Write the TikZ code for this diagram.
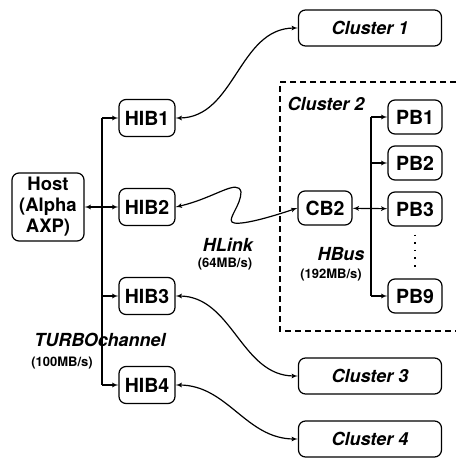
\documentclass[tikz,border=0pt]{standalone}
\usepackage{fontspec}
\setmainfont{TeX Gyre Heros}
\usepackage{tikz}
\usetikzlibrary{arrows, positioning}

\begin{document}
\begin{tikzpicture}[x=1pt, y=1pt, >=latex', line width=1.2pt, node distance=89pt, every node/.style={font=\bfseries\fontsize{18}{21}\selectfont}, unit/.style={draw, rounded corners=7pt, minimum width=56pt, minimum height=37pt, inner sep=0pt, font=\bfseries\fontsize{19.5}{21}\selectfont}, pb/.style={unit, minimum width=54pt, minimum height=34pt}, cluster/.style={draw, rounded corners=7pt, minimum width=143pt, minimum height=36pt, font=\bfseries\itshape\fontsize{18}{21}\selectfont}, lbl/.style={font=\bfseries\itshape\fontsize{18}{21}\selectfont}, rate/.style={font=\bfseries\fontsize{13}{15}\selectfont}]
\useasboundingbox (0,0) rectangle (456,-458);
\node[unit, minimum width=72pt, minimum height=68pt, align=center, font=\bfseries\fontsize{18.5}{21}\selectfont] (host) at (48,-207) {Host\\(Alpha\\AXP)};
\node[unit] (hib1) at (147,-118) {HIB1};
\node[unit, below of=hib1] (hib2) {HIB2};
\node[unit, below of=hib2] (hib3) {HIB3};
\node[unit, below of=hib3] (hib4) {HIB4};
\node[cluster] (c1) at (370,-28) {Cluster 1};
\node[cluster] (c3) at (370,-376) {Cluster 3};
\node[cluster] (c4) at (370,-439) {Cluster 4};
\node[pb] (cb2) at (325,-208) {CB2};
\node[pb] (pb1) at (415,-117) {PB1};
\node[pb, below of=pb1, node distance=46pt] (pb2) {PB2};
\node[pb, below of=pb2, node distance=46pt] (pb3) {PB3};
\node[pb] (pb9) at (415,-296) {PB9};
\coordinate (bus) at (102,0);
\coordinate (hbus) at (371,0);
\draw[dashed, dash pattern=on 6pt off 4pt] (456,-82) -- (280,-82) -- (280,-331) -- (456,-331);
\node[lbl] (cl2) at (326,-104) {Cluster 2};
\draw (bus |- hib1) -- (bus |- hib4);
\draw[->] (bus |- hib1) -- (hib1);
\draw[->] (bus |- hib3) -- (hib3);
\draw[->] (bus |- hib4) -- (hib4);
\draw[<->] (host) -- (hib2);
\draw (hbus |- pb1) -- (hbus |- pb9);
\draw[->] (hbus |- pb1) -- (pb1);
\draw[->] (hbus |- pb2) -- (pb2);
\draw[->] (hbus |- pb9) -- (pb9);
\draw[<->] (cb2) -- (pb3);
\draw[dash pattern=on 1.6pt off 6pt, line width=1.6pt] ([yshift=-8pt]pb3.south) -- ([yshift=8pt]pb9.north);
\draw[<->] (hib1) to[out=0, in=180] (c1);
\draw[<->] (hib3) to[out=0, in=180] (c3);
\draw[<->] (hib4) to[out=0, in=180] (c4);
\draw[<->] (hib2.east) .. controls (215,-198) and (238,-178) .. (241,-192) .. controls (241,-205) and (228,-218) .. (232,-222) .. controls (236,-226) and (262,-220) .. (cb2.west);
\node[lbl] (hlink) at (228,-245) {HLink};
\node[rate] (hlinkrate) at (225,-264) {(64MB/s)};
\node[lbl] (hbuslbl) at (341,-254) {HBus};
\node[rate] (hbusrate) at (331,-275) {(192MB/s)};
\node[lbl] (tc) at (100,-340) {TURBOchannel};
\node[rate] (tcrate) at (62,-363) {(100MB/s)};
\end{tikzpicture}
\end{document}
